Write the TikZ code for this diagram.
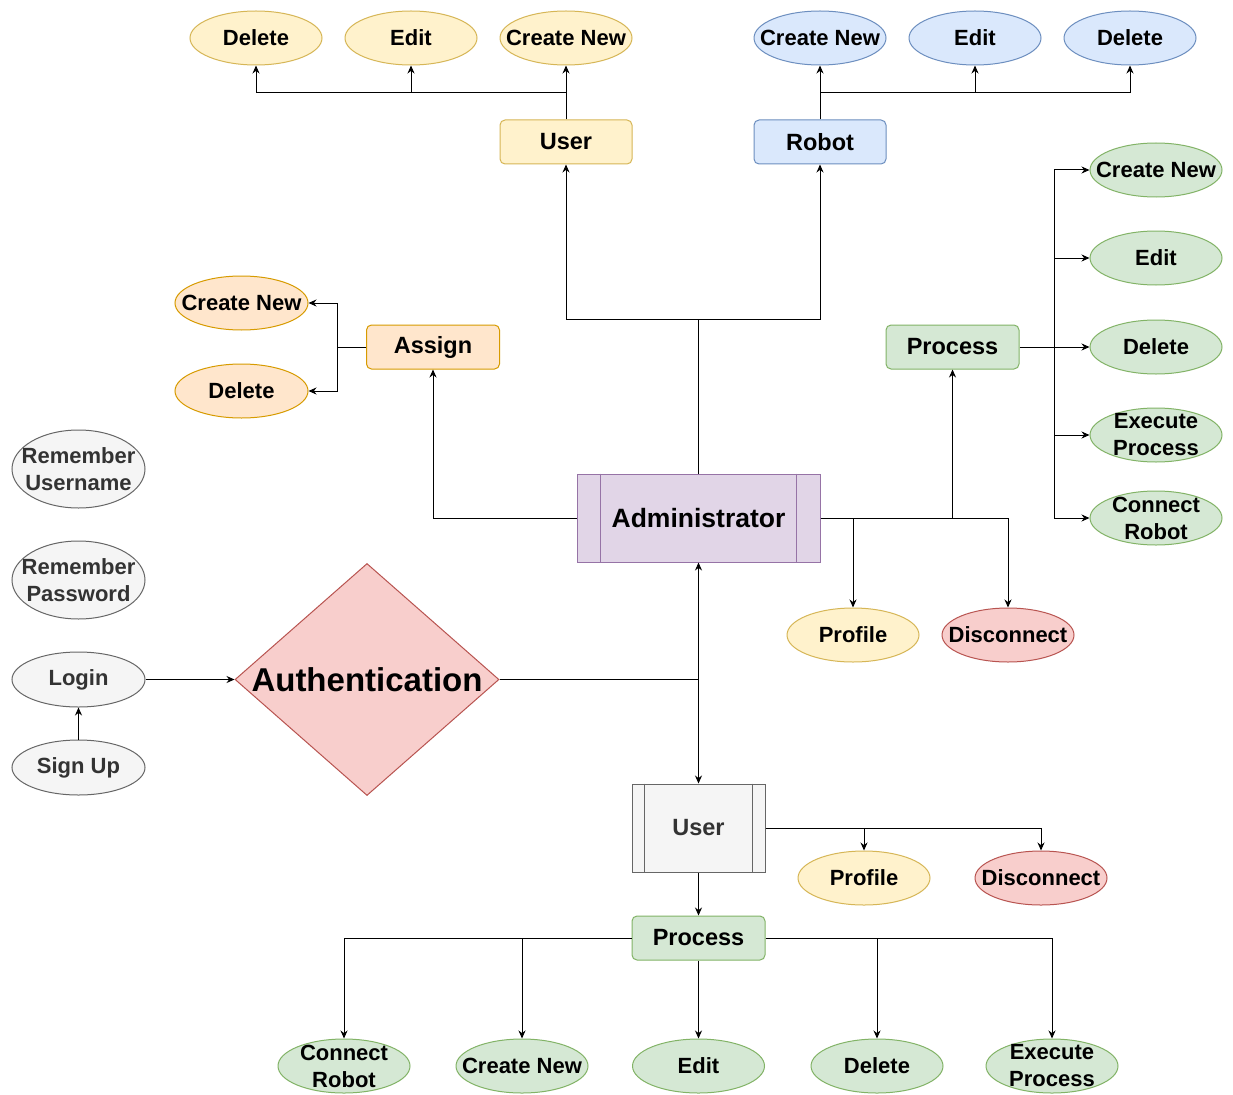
\documentclass[tikz,border=0pt]{standalone}
\usepackage{fontspec}
\setmainfont{Liberation Sans}
\usetikzlibrary{shapes.geometric,arrows.meta}
\definecolor{yF}{HTML}{FFF2CC}\definecolor{yD}{HTML}{D6B656}
\definecolor{bF}{HTML}{DAE8FC}\definecolor{bD}{HTML}{6C8EBF}
\definecolor{gF}{HTML}{D5E8D4}\definecolor{gD}{HTML}{82B366}
\definecolor{oF}{HTML}{FFE6CC}\definecolor{oD}{HTML}{D79B00}
\definecolor{rF}{HTML}{F8CECC}\definecolor{rD}{HTML}{B85450}
\definecolor{pF}{HTML}{E1D5E7}\definecolor{pD}{HTML}{9673A6}
\definecolor{qF}{HTML}{F5F5F5}\definecolor{qD}{HTML}{666666}\definecolor{qT}{HTML}{333333}
\begin{document}
\begin{tikzpicture}[x=1pt,y=-1pt,
  ell/.style={ellipse, draw, line width=1pt, minimum width=132pt, minimum height=54pt,
    inner xsep=-45pt, inner ysep=-20pt, font=\fontsize{22}{27}\selectfont\bfseries, align=center},
  box/.style={rectangle, rounded corners=5pt, draw, line width=1pt, minimum width=132pt,
    minimum height=44pt, inner sep=0pt, font=\fontsize{23.5}{28}\selectfont\bfseries},
  Y/.style={fill=yF, draw=yD}, B/.style={fill=bF, draw=bD}, G/.style={fill=gF, draw=gD},
  O/.style={fill=oF, draw=oD}, R/.style={fill=rF, draw=rD}, Q/.style={fill=qF, draw=qD, text=qT},
  cn/.style={line width=1pt, draw=black},
  arr/.style={cn, -{Stealth[length=8pt,width=7pt]}}]
\fill[white] (0,0) rectangle (1233,1094);
\useasboundingbox (0,0) rectangle (1233,1094);

% top user
\node[ell,Y] (uDel) at (256,38) {Delete};
\node[ell,Y] (uEdit) at (411,38) {Edit};
\node[ell,Y] (uNew) at (566,38) {Create New};
\node[box,Y] (userT) at (566,142) {User};
% robot
\node[ell,B] (rNew) at (820,38) {Create New};
\node[ell,B] (rEdit) at (975,38) {Edit};
\node[ell,B] (rDel) at (1130,38) {Delete};
\node[box,B] (robot) at (820,142) {Robot};
% assign
\node[box,O,minimum width=133pt] (assign) at (433,347) {Assign};
\node[ell,O,minimum width=133pt] (aNew) at (241.5,303) {Create New};
\node[ell,O,minimum width=133pt] (aDel) at (241.5,391) {Delete};
% process right
\node[box,G,minimum width=133pt] (procA) at (952.5,347) {Process};
\node[ell,G] (pNew) at (1156,170) {Create New};
\node[ell,G] (pEdit) at (1156,258) {Edit};
\node[ell,G] (pDel) at (1156,347) {Delete};
\node[ell,G] (pExec) at (1156,435) {Execute\\Process};
\node[ell,G] (pConn) at (1156,518) {Connect\\Robot};
% administrator
\node[rectangle, draw=pD, fill=pF, line width=1pt, minimum width=243pt, minimum height=88pt,
  inner sep=0pt, font=\fontsize{26.5}{30}\selectfont\bfseries] (admin) at (698.5,518) {Administrator};
\draw[line width=1pt, draw=pD] ([xshift=24pt]admin.north west) -- ([xshift=24pt]admin.south west);
\draw[line width=1pt, draw=pD] ([xshift=-24pt]admin.north east) -- ([xshift=-24pt]admin.south east);
\node[ell,Y] (profA) at (853,635) {Profile};
\node[ell,R] (discA) at (1008,635) {Disconnect};
% left gray
\node[ell,Q,minimum width=133pt,minimum height=78pt] (remU) at (78.5,469) {Remember\\Username};
\node[ell,Q,minimum width=133pt,minimum height=78pt] (remP) at (78.5,580) {Remember\\Password};
\node[ell,Q,minimum width=133pt,minimum height=55pt] (login) at (78.5,679.5) {Login};
\node[ell,Q,minimum width=133pt,minimum height=55pt] (signup) at (78.5,767.5) {Sign Up};
% authentication
\node[diamond, draw=rD, fill=rF, line width=1pt, minimum width=264pt, minimum height=232pt, inner sep=0pt] (auth) at (367,679.5) {};
\node[font=\fontsize{33}{38}\selectfont\bfseries, inner sep=0pt] (authT) at (auth.center) {Authentication};
% user bottom
\node[rectangle, draw=qD, fill=qF, text=qT, line width=1pt, minimum width=133pt, minimum height=88pt,
  inner sep=0pt, font=\fontsize{23.5}{28}\selectfont\bfseries] (userB) at (698.5,828) {User};
\draw[line width=1pt, draw=qD] ([xshift=13pt]userB.north west) -- ([xshift=13pt]userB.south west);
\draw[line width=1pt, draw=qD] ([xshift=-13pt]userB.north east) -- ([xshift=-13pt]userB.south east);
\node[ell,Y] (profB) at (864,878) {Profile};
\node[ell,R] (discB) at (1041,878) {Disconnect};
\node[box,G,minimum width=133pt] (procB) at (698.5,938) {Process};
\node[ell,G] (bConn) at (344,1066) {Connect\\Robot};
\node[ell,G] (bNew) at (522,1066) {Create New};
\node[ell,G] (bEdit) at (698.5,1066) {Edit};
\node[ell,G] (bDel) at (877,1066) {Delete};
\node[ell,G] (bExec) at (1052,1066) {Execute\\Process};

% junctions
\coordinate (uj) at (566,93);
\coordinate (rj) at (820,93);
\coordinate (tj) at (698.5,319);
\coordinate (asj) at (337,347);
\coordinate (pj) at (1054,347);
\coordinate (aj) at (698.5,679.5);

% connectors top
\draw[cn] (userT.north) -- (uj);
\draw[arr] (uj) -| (uDel.south);
\draw[arr] (uEdit.south |- uj) -- (uEdit.south);
\draw[arr] (uj) -- (uNew.south);
\draw[cn] (robot.north) -- (rj);
\draw[arr] (rj) -- (rNew.south);
\draw[arr] (rEdit.south |- rj) -- (rEdit.south);
\draw[arr] (rj) -| (rDel.south);
\draw[cn] (admin.north) -- (tj);
\draw[arr] (tj) -| (userT.south);
\draw[arr] (tj) -| (robot.south);
% assign
\draw[arr] (admin.west) -| (assign.south);
\draw[cn] (assign.west) -- (asj);
\draw[arr] (asj) |- (aNew.east);
\draw[arr] (asj) |- (aDel.east);
% admin right
\draw[arr] (admin.east) -| (profA.north);
\draw[arr] (admin.east) -| (discA.north);
\draw[arr] (procA.south |- admin.east) -- (procA.south);
\draw[arr] (procA.east) -- (pDel.west);
\draw[arr] (pj) |- (pNew.west);
\draw[arr] (pj) |- (pEdit.west);
\draw[arr] (pj) |- (pExec.west);
\draw[arr] (pj) |- (pConn.west);
% left
\draw[arr] (signup.north) -- (login.south);
\draw[arr] (login.east) -- (auth.west);
\draw[cn] (auth.east) -- (aj);
\draw[arr] (aj) -- (admin.south);
\draw[arr] (aj) -- (userB.north);
% bottom
\draw[arr] (userB.east) -| (profB.north);
\draw[arr] (userB.east) -| (discB.north);
\draw[arr] (userB.south) -- (procB.north);
\draw[arr] (procB.west) -| (bConn.north);
\draw[arr] (procB.west) -| (bNew.north);
\draw[arr] (procB.south) -- (bEdit.north);
\draw[arr] (procB.east) -| (bDel.north);
\draw[arr] (procB.east) -| (bExec.north);
\end{tikzpicture}
\end{document}
